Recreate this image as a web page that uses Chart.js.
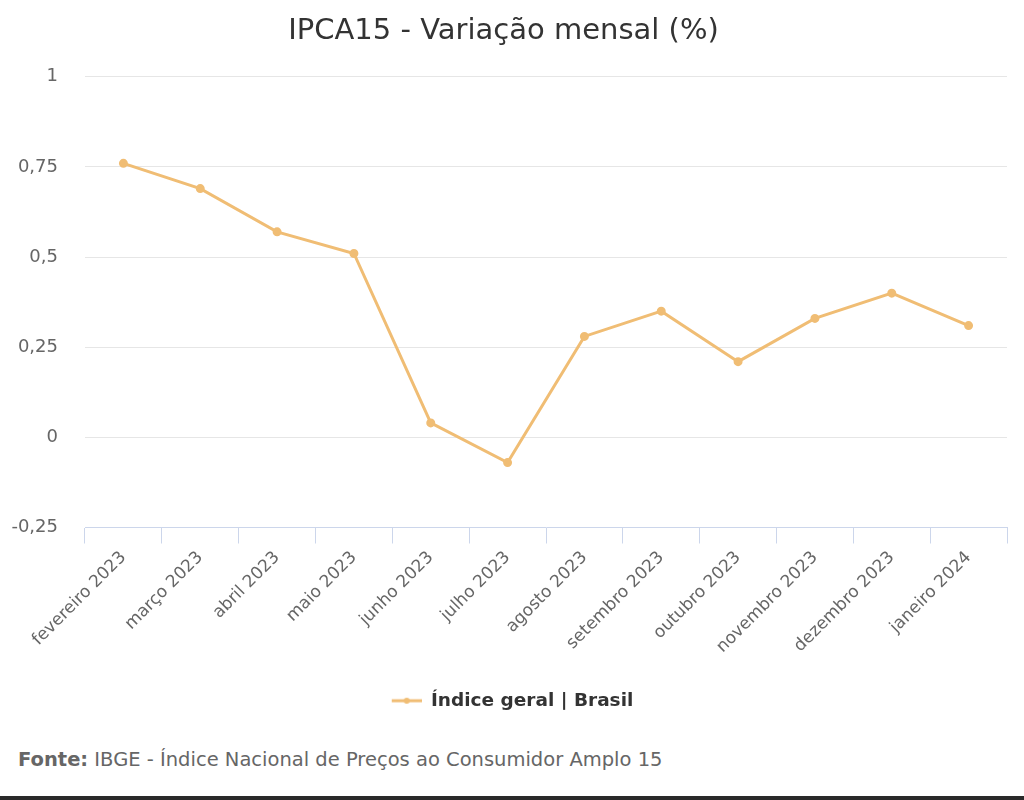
<!DOCTYPE html>
<html lang="pt-BR">
<head>
<meta charset="utf-8">
<script src="https://cdn.jsdelivr.net/npm/chart.js@4.4.1/dist/chart.umd.min.js"></script>
<style>
  html, body { margin: 0; padding: 0; background: #fff; }
  #page { position: relative; width: 1024px; height: 800px; overflow: hidden; }
  #wrap { position: absolute; left: 0; top: 0; width: 1024px; height: 720px; }
  #fonte {
    position: absolute; left: 18px; top: 748px;
    font-family: "DejaVu Sans", sans-serif; font-size: 19.5px; color: #666;
  }
  #fonte b { font-weight: bold; }
  #rule { position: absolute; left: 0; right: 0; top: 796px; height: 4px; background: #2a2a2a; }
</style>
</head>
<body>
<div id="page">
  <div id="wrap"><canvas id="ipcaChart"></canvas></div>
  <div id="fonte"><b>Fonte:</b> IBGE - Índice Nacional de Preços ao Consumidor Amplo 15</div>
  <div id="rule"></div>
</div>
<script>
// data
const meses = ['fevereiro 2023', 'março 2023', 'abril 2023', 'maio 2023', 'junho 2023', 'julho 2023',
               'agosto 2023', 'setembro 2023', 'outubro 2023', 'novembro 2023', 'dezembro 2023', 'janeiro 2024'];
const variacao = [0.76, 0.69, 0.57, 0.51, 0.04, -0.07, 0.28, 0.35, 0.21, 0.33, 0.40, 0.31];
const yTicks = [-0.25, 0, 0.25, 0.5, 0.75, 1];

const COR = '#f0bd74';
const FONTE = '"DejaVu Sans", sans-serif';

// legend symbol: short line with a dot (left part left blank to centre the item)
function legendSymbol() {
    const c = document.createElement('canvas');
    c.width = 48; c.height = 10;
    const g = c.getContext('2d');
    g.strokeStyle = COR; g.lineWidth = 3;
    g.beginPath(); g.moveTo(18, 5); g.lineTo(48, 5); g.stroke();
    g.fillStyle = COR;
    g.beginPath(); g.arc(33, 5, 3, 0, Math.PI * 2); g.fill();
    return c;
}

const fmt = v => String(v).replace('.', ',');

new Chart(document.getElementById('ipcaChart'), {
    type: 'line',
    data: {
        labels: meses,
        datasets: [{
            label: 'Índice geral | Brasil',
            data: variacao,
            borderColor: COR,
            backgroundColor: COR,
            borderWidth: 3,
            pointRadius: 3,
            pointHoverRadius: 4,
            tension: 0
        }]
    },
    options: {
        responsive: true,
        maintainAspectRatio: false,
        animation: false,
        layout: { padding: { left: 0, right: 17, top: 0, bottom: 0 } },
        plugins: {
            title: {
                display: true,
                text: 'IPCA15 - Variação mensal (%)',
                color: '#333',
                font: { family: FONTE, size: 29, weight: 'normal' },
                padding: { top: 14, bottom: 28 }
            },
            legend: {
                position: 'bottom',
                labels: {
                    usePointStyle: true,
                    pointStyle: legendSymbol(),
                    pointStyleWidth: 48,
                    color: '#333',
                    font: { family: FONTE, size: 18.5, weight: 'bold' },
                    padding: 10
                }
            },
            tooltip: { enabled: false }
        },
        scales: {
            x: {
                offset: true,
                grid: {
                    offset: true,
                    drawOnChartArea: false,
                    drawTicks: true,
                    tickLength: 16,
                    color: '#ccd6eb'
                },
                border: { display: true, color: '#ccd6eb', width: 1 },
                ticks: {
                    color: '#666',
                    font: { family: FONTE, size: 17 },
                    maxRotation: 45,
                    minRotation: 45,
                    padding: 4,
                    autoSkip: false
                },
                afterFit: s => { s.height = 154; }
            },
            y: {
                min: -0.25,
                max: 1,
                afterBuildTicks: s => { s.ticks = yTicks.map(v => ({ value: v })); },
                grid: {
                    drawTicks: false,
                    color: ctx => (ctx.tick && ctx.tick.value === -0.25) ? 'rgba(0,0,0,0)' : '#e6e6e6'
                },
                border: { display: false },
                ticks: {
                    color: '#666',
                    font: { family: FONTE, size: 18 },
                    padding: 27,
                    callback: v => fmt(v)
                },
                afterFit: s => { s.width = 85; }
            }
        }
    }
});
</script>
</body>
</html>
